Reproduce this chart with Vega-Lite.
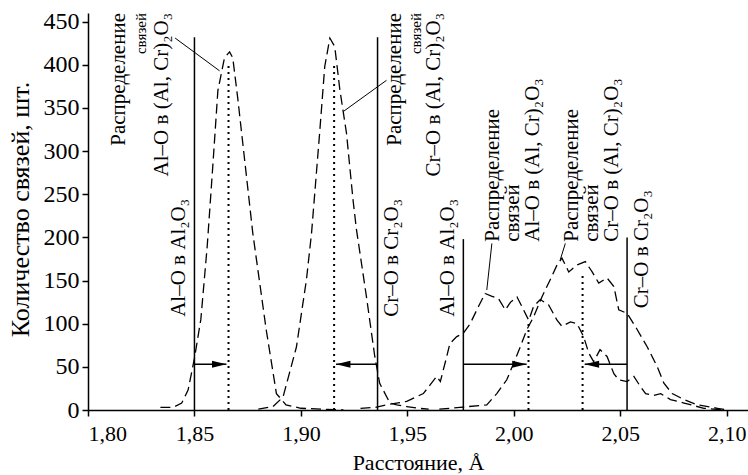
{
  "$schema": "https://vega.github.io/schema/vega-lite/v6.json",
  "width": 660,
  "height": 397,
  "autosize": {"type": "none"},
  "padding": {"left": 88, "top": 13, "right": 0, "bottom": 65},
  "background": "white",
  "config": {
    "view": {"stroke": null},
    "font": "Liberation Serif",
    "axis": {
      "labelFont": "Liberation Serif",
      "titleFont": "Liberation Serif",
      "titleFontWeight": "normal",
      "labelColor": "black",
      "titleColor": "black",
      "domainColor": "black",
      "tickColor": "black",
      "domainWidth": 1.5,
      "tickWidth": 1.5,
      "tickSize": 6,
      "grid": false
    },
    "axisX": {"labelFontSize": 22, "labelFont": "Liberation Serif"},
    "axisY": {"labelFontSize": 24, "labelFont": "Liberation Serif"}
  },
  "datasets": {
    "curves": [
      {"c": "c1", "x": 1.834, "y": 3}, {"c": "c1", "x": 1.840, "y": 3}, {"c": "c1", "x": 1.844, "y": 8},
      {"c": "c1", "x": 1.847, "y": 23}, {"c": "c1", "x": 1.850, "y": 60}, {"c": "c1", "x": 1.853, "y": 105},
      {"c": "c1", "x": 1.856, "y": 190}, {"c": "c1", "x": 1.8586, "y": 282}, {"c": "c1", "x": 1.861, "y": 370},
      {"c": "c1", "x": 1.8641, "y": 408}, {"c": "c1", "x": 1.8665, "y": 415}, {"c": "c1", "x": 1.868, "y": 408},
      {"c": "c1", "x": 1.8704, "y": 360}, {"c": "c1", "x": 1.8774, "y": 205}, {"c": "c1", "x": 1.8837, "y": 93},
      {"c": "c1", "x": 1.8885, "y": 19}, {"c": "c1", "x": 1.893, "y": 6}, {"c": "c1", "x": 1.900, "y": 2},
      {"c": "c1", "x": 1.910, "y": 1}, {"c": "c1", "x": 1.920, "y": 0},

      {"c": "c2", "x": 1.880, "y": 1}, {"c": "c2", "x": 1.8869, "y": 4}, {"c": "c2", "x": 1.8916, "y": 15},
      {"c": "c2", "x": 1.8979, "y": 73}, {"c": "c2", "x": 1.9026, "y": 151}, {"c": "c2", "x": 1.905, "y": 205},
      {"c": "c2", "x": 1.9088, "y": 321}, {"c": "c2", "x": 1.9112, "y": 398}, {"c": "c2", "x": 1.9136, "y": 431},
      {"c": "c2", "x": 1.9159, "y": 421}, {"c": "c2", "x": 1.9183, "y": 371}, {"c": "c2", "x": 1.9214, "y": 321},
      {"c": "c2", "x": 1.9245, "y": 243}, {"c": "c2", "x": 1.9261, "y": 209}, {"c": "c2", "x": 1.9308, "y": 131},
      {"c": "c2", "x": 1.9347, "y": 62}, {"c": "c2", "x": 1.937, "y": 31}, {"c": "c2", "x": 1.9418, "y": 8},
      {"c": "c2", "x": 1.945, "y": 6}, {"c": "c2", "x": 1.9497, "y": 4}, {"c": "c2", "x": 1.955, "y": 2},
      {"c": "c2", "x": 1.960, "y": 1},

      {"c": "c3", "x": 1.928, "y": 2}, {"c": "c3", "x": 1.935, "y": 3}, {"c": "c3", "x": 1.9403, "y": 6},
      {"c": "c3", "x": 1.9497, "y": 10}, {"c": "c3", "x": 1.9575, "y": 19}, {"c": "c3", "x": 1.9638, "y": 39},
      {"c": "c3", "x": 1.9655, "y": 33}, {"c": "c3", "x": 1.9685, "y": 62}, {"c": "c3", "x": 1.970, "y": 77},
      {"c": "c3", "x": 1.9732, "y": 85}, {"c": "c3", "x": 1.9763, "y": 89}, {"c": "c3", "x": 1.9795, "y": 100},
      {"c": "c3", "x": 1.9834, "y": 120}, {"c": "c3", "x": 1.9865, "y": 135}, {"c": "c3", "x": 1.9895, "y": 132},
      {"c": "c3", "x": 1.9928, "y": 129}, {"c": "c3", "x": 1.996, "y": 116}, {"c": "c3", "x": 1.9985, "y": 125},
      {"c": "c3", "x": 2.0015, "y": 131}, {"c": "c3", "x": 2.0038, "y": 120}, {"c": "c3", "x": 2.007, "y": 104},
      {"c": "c3", "x": 2.0093, "y": 120}, {"c": "c3", "x": 2.0124, "y": 128}, {"c": "c3", "x": 2.0163, "y": 122},
      {"c": "c3", "x": 2.0203, "y": 104}, {"c": "c3", "x": 2.0226, "y": 97}, {"c": "c3", "x": 2.0266, "y": 102},
      {"c": "c3", "x": 2.0297, "y": 100}, {"c": "c3", "x": 2.0328, "y": 85}, {"c": "c3", "x": 2.0352, "y": 66},
      {"c": "c3", "x": 2.0375, "y": 56}, {"c": "c3", "x": 2.0405, "y": 70}, {"c": "c3", "x": 2.0438, "y": 62},
      {"c": "c3", "x": 2.047, "y": 42}, {"c": "c3", "x": 2.0493, "y": 35}, {"c": "c3", "x": 2.0532, "y": 33},
      {"c": "c3", "x": 2.0564, "y": 39}, {"c": "c3", "x": 2.0595, "y": 27}, {"c": "c3", "x": 2.0619, "y": 19},
      {"c": "c3", "x": 2.0658, "y": 17}, {"c": "c3", "x": 2.069, "y": 19}, {"c": "c3", "x": 2.0736, "y": 12},
      {"c": "c3", "x": 2.080, "y": 8}, {"c": "c3", "x": 2.0893, "y": 2}, {"c": "c3", "x": 2.0987, "y": 0},

      {"c": "c4", "x": 1.965, "y": 1}, {"c": "c4", "x": 1.9747, "y": 3}, {"c": "c4", "x": 1.9873, "y": 6},
      {"c": "c4", "x": 1.992, "y": 19}, {"c": "c4", "x": 1.9967, "y": 35}, {"c": "c4", "x": 1.9999, "y": 54},
      {"c": "c4", "x": 2.003, "y": 73}, {"c": "c4", "x": 2.0061, "y": 93}, {"c": "c4", "x": 2.0093, "y": 108},
      {"c": "c4", "x": 2.0132, "y": 131}, {"c": "c4", "x": 2.0171, "y": 151}, {"c": "c4", "x": 2.0203, "y": 168},
      {"c": "c4", "x": 2.0226, "y": 176}, {"c": "c4", "x": 2.0258, "y": 160}, {"c": "c4", "x": 2.0297, "y": 168},
      {"c": "c4", "x": 2.0336, "y": 172}, {"c": "c4", "x": 2.0368, "y": 160}, {"c": "c4", "x": 2.0399, "y": 147},
      {"c": "c4", "x": 2.0438, "y": 153}, {"c": "c4", "x": 2.047, "y": 143}, {"c": "c4", "x": 2.0493, "y": 116},
      {"c": "c4", "x": 2.0532, "y": 112}, {"c": "c4", "x": 2.058, "y": 93}, {"c": "c4", "x": 2.0627, "y": 73},
      {"c": "c4", "x": 2.0674, "y": 50}, {"c": "c4", "x": 2.0705, "y": 31}, {"c": "c4", "x": 2.0744, "y": 19},
      {"c": "c4", "x": 2.080, "y": 12}, {"c": "c4", "x": 2.0862, "y": 6}, {"c": "c4", "x": 2.0956, "y": 2},
      {"c": "c4", "x": 2.1003, "y": 0}
    ],
    "solid": [
      {"x": 1.850, "y0": 0, "y1": 432},
      {"x": 1.936, "y0": 0, "y1": 432},
      {"x": 1.9763, "y0": 0, "y1": 198},
      {"x": 2.0532, "y0": 0, "y1": 200}
    ],
    "dotted": [
      {"x": 1.866, "y0": 0, "y1": 402},
      {"x": 1.9156, "y0": 0, "y1": 400},
      {"x": 2.0069, "y0": 0, "y1": 100},
      {"x": 2.0323, "y0": 0, "y1": 160}
    ],
    "arrows": [
      {"x1": 1.850, "x2": 1.865, "y": 53, "dir": "r"},
      {"x1": 1.936, "x2": 1.9165, "y": 53, "dir": "l"},
      {"x1": 1.9763, "x2": 2.006, "y": 53, "dir": "r"},
      {"x1": 2.0532, "x2": 2.0333, "y": 53, "dir": "l"}
    ],
    "leaders": [
      {"x1": 1.8409, "y1": 431, "x2": 1.8618, "y2": 393},
      {"x1": 1.9402, "y1": 382, "x2": 1.920, "y2": 346},
      {"x1": 1.9897, "y1": 193, "x2": 1.9873, "y2": 139},
      {"x1": 2.0242, "y1": 193, "x2": 2.0218, "y2": 174}
    ],
    "labelsUp": [
      {"x": 1.8429, "y": 108, "t": "Al–O в Al₂O₃"},
      {"x": 1.9428, "y": 108, "t": "Cr–O в Cr₂O₃"},
      {"x": 1.9691, "y": 108, "t": "Al–O в Al₂O₃"},
      {"x": 2.0603, "y": 118, "t": "Cr–O в Cr₂O₃"},
      {"x": 1.9903, "y": 195, "t": "Распределение|связей|Al–O в (Al, Cr)₂O₃"},
      {"x": 2.0275, "y": 195, "t": "Распределение|связей|Cr–O в (Al, Cr)₂O₃"}
    ],
    "labelsDown": [
      {"x": 1.8147, "y": 460, "t": "Распределение"},
      {"x": 1.8349, "y": 460, "t": "Al–O в (Al, Cr)₂O₃"},
      {"x": 1.9443, "y": 460, "t": "Распределение"},
      {"x": 1.9625, "y": 460, "t": "Cr–O в (Al, Cr)₂O₃"}
    ],
    "labelsSmall": [
      {"x": 1.8249, "y": 460, "t": "связей"},
      {"x": 1.9539, "y": 460, "t": "связей"}
    ]
  },
  "layer": [
    {
      "data": {"name": "curves"},
      "mark": {"type": "line", "color": "black", "strokeWidth": 1.3, "strokeDash": [10, 5], "clip": true},
      "encoding": {
        "x": {
          "field": "x", "type": "quantitative",
          "scale": {"domain": [1.80, 2.11], "nice": false, "zero": false},
          "axis": {
            "title": "Расстояние, Å",
            "values": [1.80, 1.85, 1.90, 1.95, 2.00, 2.05, 2.10],
            "labelExpr": "replace(format(datum.value, '.2f'), '.', ',')",
            "labelFont": "Liberation Serif",
            "titleFont": "Liberation Serif",
            "labelFontSize": 22,
            "titleFontSize": 22,
            "labelBaseline": "alphabetic",
            "labelPadding": 24,
            "titleBaseline": "alphabetic",
            "titleAnchor": "middle",
            "titleX": 330,
            "titleY": 59
          }
        },
        "y": {
          "field": "y", "type": "quantitative",
          "scale": {"domain": [0, 460], "nice": false},
          "axis": {
            "title": "Количество связей, шт.",
            "values": [0, 50, 100, 150, 200, 250, 300, 350, 400, 450],
            "labelFont": "Liberation Serif",
            "titleFont": "Liberation Serif",
            "labelFontSize": 24,
            "titleFontSize": 26,
            "labelPadding": 3,
            "titleAngle": 270,
            "titleAlign": "center",
            "titleBaseline": "middle",
            "titleX": -68,
            "titleY": 196
          }
        },
        "detail": {"field": "c", "type": "nominal"}
      }
    },
    {
      "data": {"name": "solid"},
      "mark": {"type": "rule", "color": "black", "strokeWidth": 1.5},
      "encoding": {
        "x": {"field": "x", "type": "quantitative"},
        "y": {"field": "y0", "type": "quantitative"},
        "y2": {"field": "y1"}
      }
    },
    {
      "data": {"name": "dotted"},
      "mark": {"type": "rule", "color": "black", "strokeWidth": 2, "strokeDash": [2, 4]},
      "encoding": {
        "x": {"field": "x", "type": "quantitative"},
        "y": {"field": "y0", "type": "quantitative"},
        "y2": {"field": "y1"}
      }
    },
    {
      "data": {"name": "arrows"},
      "mark": {"type": "rule", "color": "black", "strokeWidth": 1.3},
      "encoding": {
        "x": {"field": "x1", "type": "quantitative"},
        "x2": {"field": "x2"},
        "y": {"field": "y", "type": "quantitative"}
      }
    },
    {
      "data": {"name": "arrows"},
      "mark": {"type": "point", "filled": true, "color": "black", "opacity": 1, "size": 144, "strokeWidth": 0},
      "encoding": {
        "x": {"field": "x2", "type": "quantitative"},
        "y": {"field": "y", "type": "quantitative"},
        "shape": {
          "field": "dir", "type": "nominal", "legend": null,
          "scale": {"domain": ["r", "l"], "range": ["M0,0L-2.4,-0.6L-2.4,0.6Z", "M0,0L2.4,-0.6L2.4,0.6Z"]}
        }
      }
    },
    {
      "data": {"name": "leaders"},
      "mark": {"type": "rule", "color": "black", "strokeWidth": 1},
      "encoding": {
        "x": {"field": "x1", "type": "quantitative"},
        "y": {"field": "y1", "type": "quantitative"},
        "x2": {"field": "x2"},
        "y2": {"field": "y2"}
      }
    },
    {
      "data": {"name": "labelsUp"},
      "mark": {"type": "text", "angle": 270, "align": "left", "baseline": "middle", "font": "Liberation Serif", "fontSize": 21, "lineHeight": 20, "lineBreak": "|", "color": "black"},
      "encoding": {
        "x": {"field": "x", "type": "quantitative"},
        "y": {"field": "y", "type": "quantitative"},
        "text": {"field": "t", "type": "nominal"}
      }
    },
    {
      "data": {"name": "labelsDown"},
      "mark": {"type": "text", "angle": 270, "align": "right", "baseline": "middle", "font": "Liberation Serif", "fontSize": 21, "color": "black"},
      "encoding": {
        "x": {"field": "x", "type": "quantitative"},
        "y": {"field": "y", "type": "quantitative"},
        "text": {"field": "t", "type": "nominal"}
      }
    },
    {
      "data": {"name": "labelsSmall"},
      "mark": {"type": "text", "angle": 270, "align": "right", "baseline": "middle", "font": "Liberation Serif", "fontSize": 15, "color": "black"},
      "encoding": {
        "x": {"field": "x", "type": "quantitative"},
        "y": {"field": "y", "type": "quantitative"},
        "text": {"field": "t", "type": "nominal"}
      }
    }
  ]
}
